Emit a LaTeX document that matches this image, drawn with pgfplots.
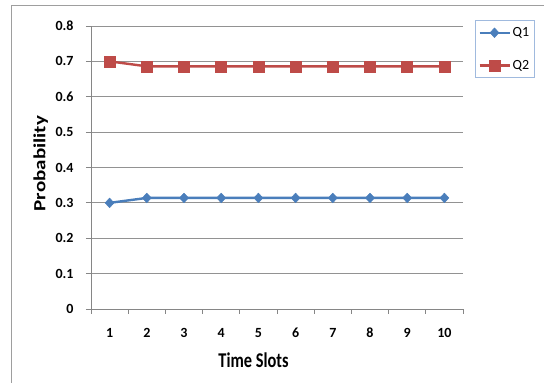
\documentclass[border=0pt]{standalone}
\usepackage{fontspec}
\setmainfont{Carlito}
\usepackage{pgfplots}
\pgfplotsset{compat=1.18}
\definecolor{qblue}{RGB}{74,126,187}
\definecolor{qred}{RGB}{190,75,72}
\definecolor{axgray}{RGB}{134,134,134}
\definecolor{leglin}{RGB}{160,186,222}
\begin{document}
\begin{tikzpicture}[x=1pt,y=1pt]
\useasboundingbox (0,0) rectangle (544,383);
\draw[color=axgray!80, line width=0.8pt] (11,0) -- (11,378) -- (544,378);
\begin{axis}[
  at={(91pt,74pt)}, anchor=south west,
  scale only axis, width=372pt, height=283pt,
  xmin=0.5, xmax=10.5, ymin=0, ymax=0.8,
  axis x line*=bottom, axis y line*=left,
  axis line style={draw=axgray, line width=0.9pt, -},
  xtick={0.5,1.5,...,10.5}, xticklabels={},
  extra x ticks={1,2,...,10},
  extra x tick labels={1,2,3,4,5,6,7,8,9,10},
  extra x tick style={major tick length=0pt, grid=none},
  ytick={0,0.1,...,0.8},
  yticklabels={0,0.1,0.2,0.3,0.4,0.5,0.6,0.7,0.8},
  tick align=outside, major tick length=5pt,
  tick style={draw=axgray, line width=0.9pt},
  ymajorgrids, grid style={draw=axgray!90, line width=0.9pt},
  ticklabel style={font=\bfseries\fontsize{14}{16}\selectfont},
  /pgf/number format/assume math mode=true,
  xticklabel style={anchor=center, yshift=-24pt},
  yticklabel style={anchor=east, xshift=-9pt},
  xlabel={Time Slots}, ylabel={Probability},
  every axis x label/.style={at={(axis description cs:0.437,-0.180)}, anchor=center, xscale=0.78,
    font=\bfseries\fontsize{21}{23}\selectfont},
  every axis y label/.style={at={(axis description cs:-0.135,0.514)}, anchor=center, xscale=0.81, rotate=90,
    font=\bfseries\fontsize{21}{23}\selectfont},
  legend style={at={(1.032,1.021)}, anchor=north west, draw=leglin, line width=0.8pt,
    font=\fontsize{14}{16}\selectfont, row sep=18pt, inner xsep=3pt, inner ysep=5pt,
    cells={anchor=west}},
  legend image code/.code={\draw[mark repeat=2,mark phase=2] plot coordinates {(0pt,0pt)(15pt,0pt)(30pt,0pt)};},
]
\addplot[color=qblue, line width=2.4pt, mark=diamond*, mark size=4.8pt, mark options={solid, xscale=1.25, line width=0.5pt}]
  coordinates {(1,0.300)(2,0.314)(3,0.314)(4,0.314)(5,0.314)(6,0.314)(7,0.314)(8,0.314)(9,0.314)(10,0.314)};
\addlegendentry{Q1}
\addplot[color=qred, line width=2.4pt, mark=square*, mark size=5.5pt, mark options={solid, line width=0.5pt}]
  coordinates {(1,0.700)(2,0.686)(3,0.686)(4,0.686)(5,0.686)(6,0.686)(7,0.686)(8,0.686)(9,0.686)(10,0.686)};
\addlegendentry{Q2}
\end{axis}
\end{tikzpicture}
\end{document}
